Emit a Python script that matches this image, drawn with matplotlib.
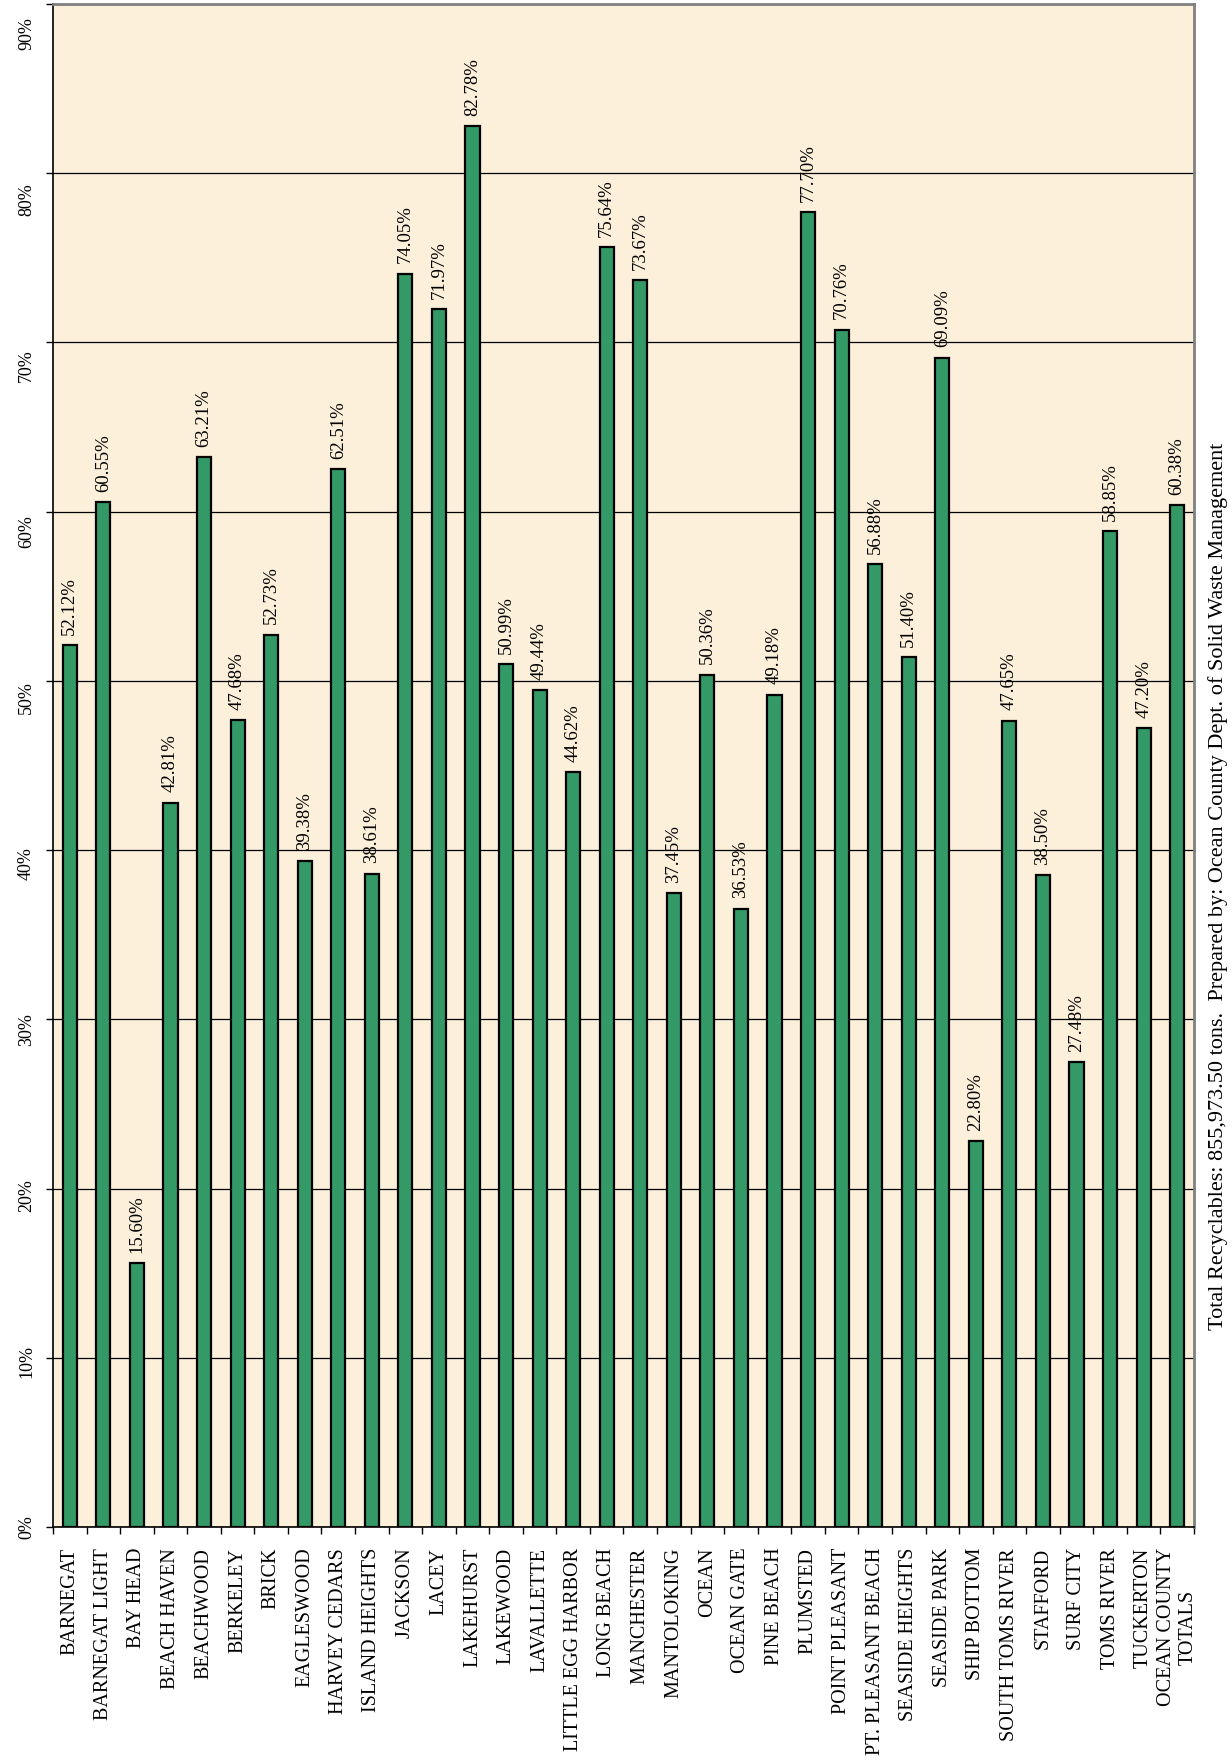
import matplotlib.pyplot as plt
import matplotlib.transforms as mtransforms
import numpy as np

plt.rcParams['font.family'] = ['Liberation Serif', 'DejaVu Serif']

towns = ['BARNEGAT', 'BARNEGAT LIGHT', 'BAY HEAD', 'BEACH HAVEN', 'BEACHWOOD',
         'BERKELEY', 'BRICK', 'EAGLESWOOD', 'HARVEY CEDARS', 'ISLAND HEIGHTS',
         'JACKSON', 'LACEY', 'LAKEHURST', 'LAKEWOOD', 'LAVALLETTE',
         'LITTLE EGG HARBOR', 'LONG BEACH', 'MANCHESTER', 'MANTOLOKING', 'OCEAN',
         'OCEAN GATE', 'PINE BEACH', 'PLUMSTED', 'POINT PLEASANT',
         'PT. PLEASANT BEACH', 'SEASIDE HEIGHTS', 'SEASIDE PARK', 'SHIP BOTTOM',
         'SOUTH TOMS RIVER', 'STAFFORD', 'SURF CITY', 'TOMS RIVER', 'TUCKERTON',
         'OCEAN COUNTY\nTOTALS']
rates = [52.12, 60.55, 15.60, 42.81, 63.21, 47.68, 52.73, 39.38, 62.51, 38.61,
         74.05, 71.97, 82.78, 50.99, 49.44, 44.62, 75.64, 73.67, 37.45, 50.36,
         36.53, 49.18, 77.70, 70.76, 56.88, 51.40, 69.09, 22.80, 47.65, 38.50,
         27.48, 58.85, 47.20, 60.38]
yticks = [0, 10, 20, 30, 40, 50, 60, 70, 80, 90]
note = ('Total Recyclables: 855,973.50 tons.  '
        'Prepared by: Ocean County Dept. of Solid Waste Management')

fig = plt.figure(figsize=(12.32, 17.62), dpi=100)
ax = fig.add_axes([53 / 1232, 1 - 1527 / 1762, (1194 - 53) / 1232, (1527 - 4) / 1762])
ax.set_facecolor('#FCF0DA')

x = np.arange(len(towns))
ax.bar(x, rates, width=0.42, color='#339966', edgecolor='black', linewidth=1.6, zorder=3)

for xi, v in zip(x, rates):
    ax.annotate('%.2f%%' % v, (xi, v), xytext=(0, 7.5), textcoords='offset points',
                rotation=90, ha='center', va='bottom', fontsize=13.5, zorder=4)

ax.set_xlim(-0.5, len(towns) - 0.5)
ax.set_ylim(0, 90)
ax.set_yticks(yticks)
ax.set_yticklabels(['%d%%' % t for t in yticks], rotation=90, va='center', fontsize=13)
ax.tick_params(axis='y', direction='out', length=5, width=1, pad=8)
ax.yaxis.grid(True, color='black', linewidth=0.9, zorder=1)
# excel drifts the value labels a little below their gridlines going up
for i, lab in enumerate(ax.get_yticklabels()):
    shift = mtransforms.ScaledTranslation(0, -i * 3.3 / 100, fig.dpi_scale_trans)
    lab.set_transform(lab.get_transform() + shift)

ax.set_xticks(x)
ax.set_xticklabels(towns, rotation=90, ha='center', va='top', fontsize=14.5,
                   multialignment='center')
ax.set_xticks(np.arange(len(towns) + 1) - 0.5, minor=True)
ax.tick_params(axis='x', which='major', length=0, pad=15)
ax.tick_params(axis='x', which='minor', direction='out', length=5, width=1)

for s in ['left', 'bottom']:
    ax.spines[s].set_color('black')
    ax.spines[s].set_linewidth(1.2)
for s in ['top', 'right']:
    ax.spines[s].set_color('#808080')
    ax.spines[s].set_linewidth(2)

fig.text(1218 / 1232, 0.497, note, rotation=90, ha='center', va='center', fontsize=16)

fig.savefig('out.png', dpi=100)
